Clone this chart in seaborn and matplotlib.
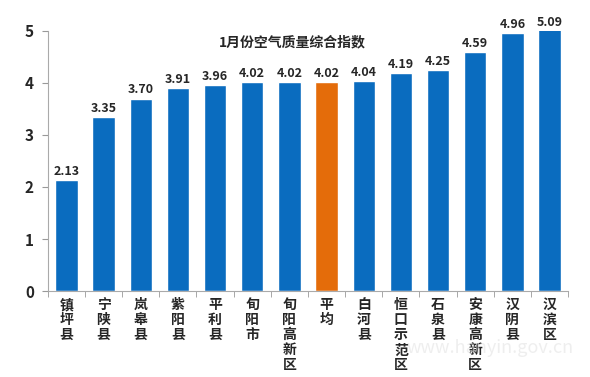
import numpy as np
import pandas as pd
import matplotlib
matplotlib.use("Agg")
import matplotlib.pyplot as plt
import seaborn as sns

# Chart data
regions = ["镇坪县", "宁陕县", "岚皋县", "紫阳县", "平利县", "旬阳市", "旬阳高新区",
           "平均", "白河县", "恒口示范区", "石泉县", "安康高新区", "汉阴县", "汉滨区"]
values = [2.13, 3.35, 3.70, 3.91, 3.96, 4.02, 4.02, 4.02, 4.04, 4.19, 4.25, 4.59, 4.96, 5.09]
is_avg = ["avg" if r == "平均" else "region" for r in regions]

col_main = "#0a6cbf"
col_avg = "#e46c0a"

sns.set_style("white")
plt.rcParams['font.family'] = ['Noto Sans CJK SC', 'DejaVu Sans']

df = pd.DataFrame({"region": regions, "value": values, "kind": is_avg})

fig = plt.figure(figsize=(5.9, 3.77), dpi=100)
ax = fig.add_axes([0.081, 0.228, 0.882, 0.690])

sns.barplot(data=df, x="region", y="value", hue="kind",
            palette={"region": col_main, "avg": col_avg},
            dodge=False, width=0.6, legend=False, ax=ax, saturation=1)

ax.set_ylim(0, 5)
ax.set_xlim(-0.5, len(regions) - 0.5)
ax.set_yticks([0, 1, 2, 3, 4, 5])
ax.set_yticklabels(["0", "1", "2", "3", "4", "5"], fontsize=11, fontweight="bold")

# Stacked vertical category labels
ax.set_xticks(range(len(regions)))
ax.set_xticklabels(["\n".join(r) for r in regions], fontsize=10,
                   fontweight="bold", linespacing=1.1, va="top")
ax.tick_params(axis="x", which="major", length=0, pad=5)
ax.set_xticks(np.arange(-0.5, len(regions), 1), minor=True)
ax.tick_params(axis="x", which="minor", length=4, color="#999999", direction="out")
ax.tick_params(axis="y", length=4, color="#999999", direction="out", pad=6)
ax.xaxis.set_ticks_position("bottom")
ax.yaxis.set_ticks_position("left")

ax.spines[['top', 'right']].set_visible(False)
ax.spines[['left', 'bottom']].set_color("#aaaaaa")
ax.set_xlabel("")
ax.set_ylabel("")

# Value labels
for i, v in enumerate(values):
    ax.text(i, min(v, 5) + 0.04, f"{v:.2f}", ha="center", va="bottom",
            fontsize=9, fontweight="bold", clip_on=False)

# Title
ax.text(0.47, 0.955, "1月份空气质量综合指数", transform=ax.transAxes,
        ha="center", va="center", fontsize=10, fontweight="bold")

# Watermark
fig.text(0.83, 0.078, "www.hanyin.gov.cn", ha="center", va="center",
         fontsize=13, color="#e4e4e4", alpha=0.6, zorder=0)

fig.savefig("out.png", dpi=100)
